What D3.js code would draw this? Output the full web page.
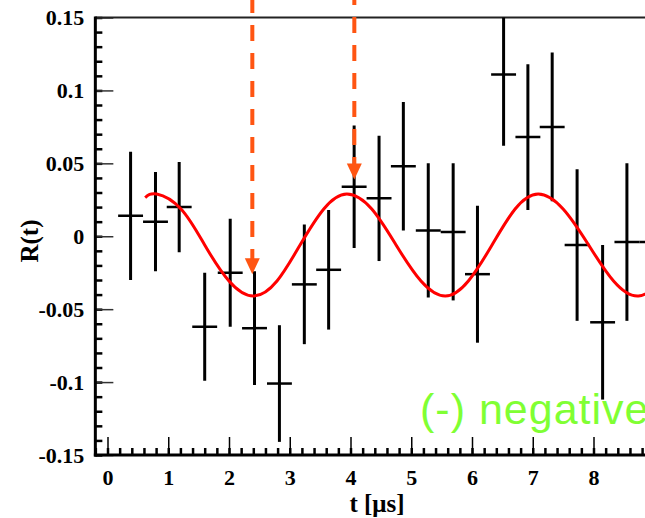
<!DOCTYPE html>
<html>
<head>
<meta charset="utf-8">
<script src="https://cdn.jsdelivr.net/npm/d3@7"></script>
<style>
    html, body { margin: 0; padding: 0; background: #fff; }
    svg { display: block; }
</style>
</head>
<body>
<svg id="chart" width="645" height="518"></svg>
<script>
/*globals d3*/

// bin centres [us], asymmetry R(t) and its error
var binTime = [0.38, 0.79, 1.18, 1.60, 2.02, 2.42, 2.83, 3.24, 3.64, 4.06, 4.47,
               4.87, 5.28, 5.69, 6.09, 6.52, 6.92, 7.32, 7.73, 8.15, 8.55, 8.96],
    asymmetry = [0.014, 0.010, 0.020, -0.062, -0.025, -0.063, -0.101, -0.033, -0.023, 0.034, 0.026,
                 0.048, 0.004, 0.003, -0.026, 0.111, 0.068, 0.075, -0.006, -0.059, -0.004, -0.004],
    asymErr = [0.044, 0.034, 0.031, 0.037, 0.037, 0.039, 0.040, 0.041, 0.041, 0.042, 0.043,
               0.044, 0.046, 0.047, 0.047, 0.049, 0.050, 0.051, 0.052, 0.053, 0.054, 0.055],
    binHalfWidth = 0.205,

    // fitted oscillation
    fitTime = [0.62, 0.81, 1.21, 1.60, 2.00, 2.40, 2.79, 3.17, 3.56, 3.94, 4.35, 4.75, 5.16,
               5.56, 5.94, 6.33, 6.71, 7.09, 7.50, 7.92, 8.33, 8.74, 9.13],
    fitValue = [0.0265, 0.029, 0.0187, -0.006, -0.0307, -0.041, -0.0307, -0.006, 0.0187, 0.029,
                0.0187, -0.006, -0.0307, -0.041, -0.0307, -0.006, 0.0187, 0.029, 0.0187, -0.006,
                -0.0307, -0.041, -0.0307],

    // dashed arrows: time and where the head points
    arrowTime = [2.384, 4.063],
    arrowTip = [-0.026, 0.039],

    xTickValues = [0, 1, 2, 3, 4, 5, 6, 7, 8],
    xTickLabels = ["0", "1", "2", "3", "4", "5", "6", "7", "8"],
    yTickValues = [-0.15, -0.1, -0.05, 0, 0.05, 0.1, 0.15],
    yTickLabels = ["-0.15", "-0.1", "-0.05", "0", "0.05", "0.1", "0.15"];

(function () {
    "use strict";
    var WIDTH = 645,
        TOP = 17.5,
        BOTTOM = 455,
        SERIF = "'Liberation Serif', 'Times New Roman', serif",
        ARROW_COLOR = "#ff5512",
        svg = d3.select("#chart"),
        x = d3.scaleLinear().domain([0, 8]).range([107.5, 593.5]),
        y = d3.scaleLinear().domain([-0.15, 0.15]).range([BOTTOM, TOP]),
        left = x(-0.2),
        plot, i,

        /**
         * Style an axis group the ROOT way: bold serif labels, no domain path.
         */
        styleAxis = function (g, size) {
            g.select(".domain").remove();
            g.attr("font-family", SERIF)
                .attr("font-size", size)
                .attr("font-weight", "bold");
        };

    svg.append("defs").append("clipPath").attr("id", "plotArea")
        .append("rect")
        .attr("x", left)
        .attr("y", TOP)
        .attr("width", WIDTH - left + 50)
        .attr("height", BOTTOM - TOP);

    // minor ticks
    svg.append("g")
        .attr("transform", "translate(" + left + ",0)")
        .call(d3.axisLeft(y).tickValues(d3.range(-15, 16).map(function (d) { return d / 100; }))
            .tickSize(-7).tickSizeOuter(0).tickFormat(""))
        .call(styleAxis, 22)
        .selectAll("line").attr("stroke-width", 2.5);

    svg.append("g")
        .attr("transform", "translate(0," + BOTTOM + ")")
        .call(d3.axisBottom(x).tickValues(d3.range(-1, 47).map(function (d) { return d / 5; }))
            .tickSize(-7).tickSizeOuter(0).tickFormat(""))
        .call(styleAxis, 22)
        .selectAll("line").attr("stroke-width", 2.5);

    // major ticks with labels
    svg.append("g")
        .attr("transform", "translate(" + left + ",0)")
        .call(d3.axisLeft(y).tickValues(yTickValues).tickSize(-18).tickSizeOuter(0)
            .tickPadding(11)
            .tickFormat(function (d, i) { return yTickLabels[i]; }))
        .call(styleAxis, 22)
        .selectAll("line").attr("stroke-width", 1.5).attr("stroke", "#333");

    svg.append("g")
        .attr("transform", "translate(0," + BOTTOM + ")")
        .call(d3.axisBottom(x).tickValues(xTickValues).tickSize(-18).tickSizeOuter(0)
            .tickPadding(14)
            .tickFormat(function (d, i) { return xTickLabels[i]; }))
        .call(styleAxis, 22)
        .selectAll("line").attr("stroke-width", 1.5);

    // frame
    svg.append("line")
        .attr("x1", left).attr("x2", WIDTH)
        .attr("y1", TOP).attr("y2", TOP)
        .attr("stroke", "#222").attr("stroke-width", 2);
    svg.append("line")
        .attr("x1", left).attr("x2", left)
        .attr("y1", TOP - 1).attr("y2", BOTTOM + 1.5)
        .attr("stroke", "#000").attr("stroke-width", 3);
    svg.append("line")
        .attr("x1", left - 1.5).attr("x2", WIDTH)
        .attr("y1", BOTTOM).attr("y2", BOTTOM)
        .attr("stroke", "#000").attr("stroke-width", 3);

    plot = svg.append("g").attr("clip-path", "url(#plotArea)");

    // data points with error bars
    for (i = 0; i < binTime.length; i += 1) {
        plot.append("line")
            .attr("x1", x(binTime[i])).attr("x2", x(binTime[i]))
            .attr("y1", y(asymmetry[i] - asymErr[i]))
            .attr("y2", y(asymmetry[i] + asymErr[i]))
            .attr("stroke", "#000").attr("stroke-width", 3);
        plot.append("line")
            .attr("x1", x(binTime[i] - binHalfWidth))
            .attr("x2", x(binTime[i] + binHalfWidth))
            .attr("y1", y(asymmetry[i])).attr("y2", y(asymmetry[i]))
            .attr("stroke", "#000").attr("stroke-width", 2.5);
    }

    // fit
    plot.append("path")
        .datum(d3.range(fitTime.length))
        .attr("fill", "none")
        .attr("stroke", "#ff0000")
        .attr("stroke-width", 3)
        .attr("d", d3.line()
            .x(function (k) { return x(fitTime[k]); })
            .y(function (k) { return y(fitValue[k]); })
            .curve(d3.curveNatural));

    // dashed arrows from the top edge
    [3, 11].forEach(function (offset, k) {
        var ax = x(arrowTime[k]),
            tip = y(arrowTip[k]);
        svg.append("line")
            .attr("x1", ax).attr("x2", ax)
            .attr("y1", 0).attr("y2", tip - 15)
            .attr("stroke", ARROW_COLOR)
            .attr("stroke-width", 4)
            .attr("stroke-dasharray", "16,12")
            .attr("stroke-dashoffset", offset);
        svg.append("path")
            .attr("d", "M" + (ax - 7.5) + "," + (tip - 16) + "L" + (ax + 7.5) + "," + (tip - 16) +
                  "L" + ax + "," + tip + "Z")
            .attr("fill", ARROW_COLOR);
    });

    // axis titles
    svg.append("text")
        .attr("transform", "translate(38,241) rotate(-90)")
        .attr("text-anchor", "middle")
        .attr("font-family", SERIF)
        .attr("font-weight", "bold")
        .attr("font-size", 25)
        .text("R(t)");

    svg.append("text")
        .attr("x", 377).attr("y", 512)
        .attr("text-anchor", "middle")
        .attr("font-family", SERIF)
        .attr("font-weight", "bold")
        .attr("font-size", 25)
        .text("t [μs]");

    svg.append("text")
        .attr("x", 420).attr("y", 424)
        .attr("font-family", "'Liberation Sans', Arial, sans-serif")
        .attr("font-size", 43)
        .attr("letter-spacing", 1)
        .attr("fill", "#80ff33")
        .text("(-) negative");
}());
</script>
</body>
</html>
